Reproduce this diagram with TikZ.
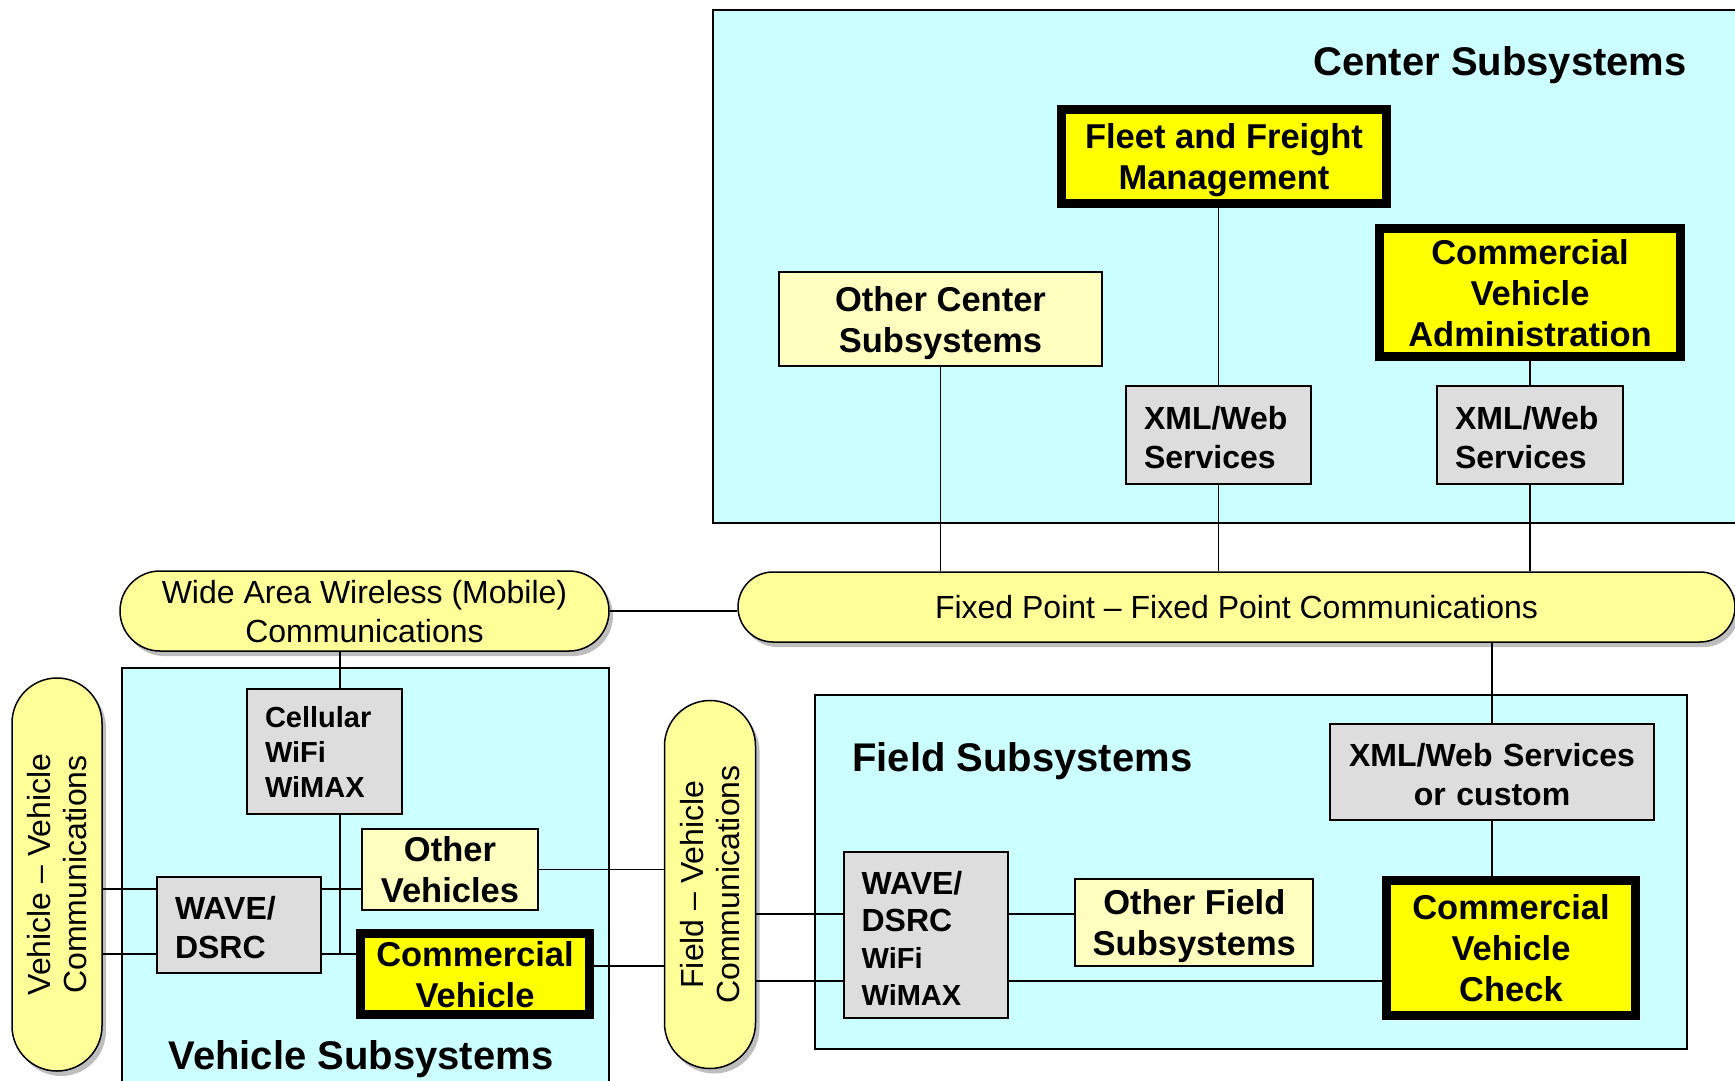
\documentclass[tikz,border=0pt]{standalone}
\usepackage{fontspec}
\setmainfont{Liberation Sans}
\usetikzlibrary{shapes.misc,shadows}

\definecolor{subsyscyan}{RGB}{204,255,255}
\definecolor{keyyellow}{RGB}{255,255,0}
\definecolor{paleyellow}{RGB}{255,255,192}
\definecolor{busyellow}{RGB}{255,255,153}
\definecolor{techgray}{RGB}{221,221,221}
\definecolor{shadowgray}{RGB}{190,190,190}

\tikzset{
  subsysbox/.style={draw, line width=2pt, fill=subsyscyan},
  subsystitle/.style={font=\fontsize{40}{48}\selectfont\bfseries, inner sep=0pt, text depth=0pt},
  keybox/.style={draw, line width=9pt, fill=keyyellow, align=center, inner sep=0pt, text depth=-4.4pt,
    font=\fontsize{34.5}{41}\selectfont\bfseries},
  otherbox/.style={draw, line width=2pt, fill=paleyellow, align=center, inner sep=0pt, text depth=-2pt,
    font=\fontsize{34.5}{41}\selectfont\bfseries},
  techbox/.style={draw, line width=2pt, fill=techgray, align=left, inner xsep=18pt, inner ysep=0pt, text height=28pt,
    font=\fontsize{32}{39}\selectfont\bfseries},
  commbus/.style={rounded rectangle, draw, line width=1.5pt, fill=busyellow, align=center, inner sep=0pt, text depth=-2pt,
    drop shadow={shadow xshift=4pt, shadow yshift=-5pt, fill=shadowgray, opacity=1},
    font=\fontsize{32}{39}\selectfont},
  link/.style={line width=1.6pt},
}

\begin{document}
\begin{tikzpicture}[x=1pt,y=1pt,yscale=-1]
\useasboundingbox (0,0) rectangle (1735,1080);
\clip (0,0) rectangle (1735,1080);

% subsystem areas
\draw[subsysbox] (713,10) rectangle (1750,523);
\draw[subsysbox] (122,668) rectangle (609,1095);
\draw[subsysbox] (815,695) rectangle (1687,1049);
\node[subsystitle, anchor=east] (centertitle) at (1687,61) {Center Subsystems};
\node[subsystitle] (vehicletitle) at (361,1055) {Vehicle Subsystems};
\node[subsystitle, anchor=west] (fieldtitle) at (852,757) {Field Subsystems};

% center subsystems
\node[keybox, minimum width=325pt, minimum height=94pt] (fleet) at (1224,156.5) {Fleet and Freight\\Management};
\node[otherbox, minimum width=323pt, minimum height=94pt] (othercenter) at (940.5,319) {Other Center\\Subsystems};
\node[keybox, text depth=-2pt, minimum width=301pt, minimum height=128pt] (cvadmin) at (1530,292.5) {Commercial\\Vehicle\\Administration};
\node[techbox, text width=149pt, minimum height=98pt] (xmlfleet) at (1218.5,435) {XML/Web\\Services};
\node[techbox, text width=150pt, minimum height=98pt] (xmlcva) at (1530,435) {XML/Web\\Services};

% communications
\node[commbus, minimum width=997pt, minimum height=70pt] (fixedbus) at (1236.5,607) {Fixed Point -- Fixed Point Communications};
\node[commbus, minimum width=489pt, minimum height=80pt] (widebus) at (364.5,611) {Wide Area Wireless (Mobile)\\Communications};
\node[commbus, rotate=90, minimum width=393pt, minimum height=90pt, font=\fontsize{32}{36.5}\selectfont] (vvbus) at (57,874.5) {Vehicle -- Vehicle\\Communications};
\node[commbus, rotate=90, minimum width=368pt, minimum height=91pt, font=\fontsize{32}{36.5}\selectfont] (fvbus) at (710,884.5) {Field -- Vehicle\\Communications};

% vehicle subsystems
\node[techbox, text height=22pt, text width=119pt, minimum height=125pt, font=\fontsize{29}{35}\selectfont\bfseries] (cellular) at (324.5,751.5) {Cellular\\WiFi\\WiMAX};
\node[otherbox, minimum width=176pt, minimum height=81pt] (othervehicles) at (450,869.5) {Other\\Vehicles};
\node[techbox, text width=128pt, minimum height=96pt] (vwave) at (239,925) {WAVE/\\DSRC};
\node[keybox, minimum width=229pt, minimum height=81pt] (cveh) at (475,974) {Commercial\\Vehicle};

% field subsystems
\node[techbox, align=center, text width=288pt, minimum height=96pt] (xmlcustom) at (1492,772) {XML/Web Services\\or custom};
\node[techbox, text height=30pt, text width=128pt, minimum height=166pt, font=\fontsize{32}{37}\selectfont\bfseries] (fwave) at (925.6,935) {WAVE/\\DSRC\\{\fontsize{29}{37}\selectfont WiFi}\\{\fontsize{29}{37}\selectfont WiMAX}};
\node[otherbox, text depth=-4.4pt, minimum width=238pt, minimum height=87pt] (otherfield) at (1194.3,922) {Other Field\\Subsystems};
\node[keybox, minimum width=249pt, minimum height=135pt] (cvcheck) at (1511,948) {Commercial\\Vehicle\\Check};

% connection levels
\coordinate (celltap) at (340,700);
\coordinate (vup) at (340,889);
\coordinate (vlow) at (340,954);
\coordinate (cvtap) at (600,966);
\coordinate (fup) at (800,914);
\coordinate (flow) at (800,981);

% center links
\draw[link] (othercenter.south) -- (othercenter.south |- fixedbus.north);
\draw[link] (xmlfleet.north) -- (xmlfleet.north |- fleet.south);
\draw[link] (xmlfleet.south) -- (xmlfleet.south |- fixedbus.north);
\draw[link] (xmlcva.north) -- (xmlcva.north |- cvadmin.south);
\draw[link] (xmlcva.south) -- (xmlcva.south |- fixedbus.north);
\draw[link] (widebus.east) -- (widebus.east -| fixedbus.west);

% vehicle links
\draw[link] (celltap |- widebus.south) -- (celltap |- cellular.north);
\draw[link] (celltap |- cellular.south) -- (vlow);
\draw[link] (vvbus.south |- vup) -- (vwave.west |- vup);
\draw[link] (vwave.east |- vup) -- (othervehicles.west |- vup);
\draw[link] (vvbus.south |- vlow) -- (vwave.west |- vlow);
\draw[link] (vwave.east |- vlow) -- (cveh.west |- vlow);
\draw[link] (othervehicles.east) -- (othervehicles.east -| fvbus.north);
\draw[link] (cveh.east |- cvtap) -- (fvbus.north |- cvtap);

% field links
\draw[link] (xmlcustom.north) -- (xmlcustom.north |- fixedbus.south);
\draw[link] (xmlcustom.south) -- (xmlcustom.south |- cvcheck.north);
\draw[link] (fvbus.south |- fup) -- (fwave.west |- fup);
\draw[link] (fwave.east |- fup) -- (otherfield.west |- fup);
\draw[link] (fvbus.south |- flow) -- (fwave.west |- flow);
\draw[link] (fwave.east |- flow) -- (cvcheck.west |- flow);
\end{tikzpicture}
\end{document}
